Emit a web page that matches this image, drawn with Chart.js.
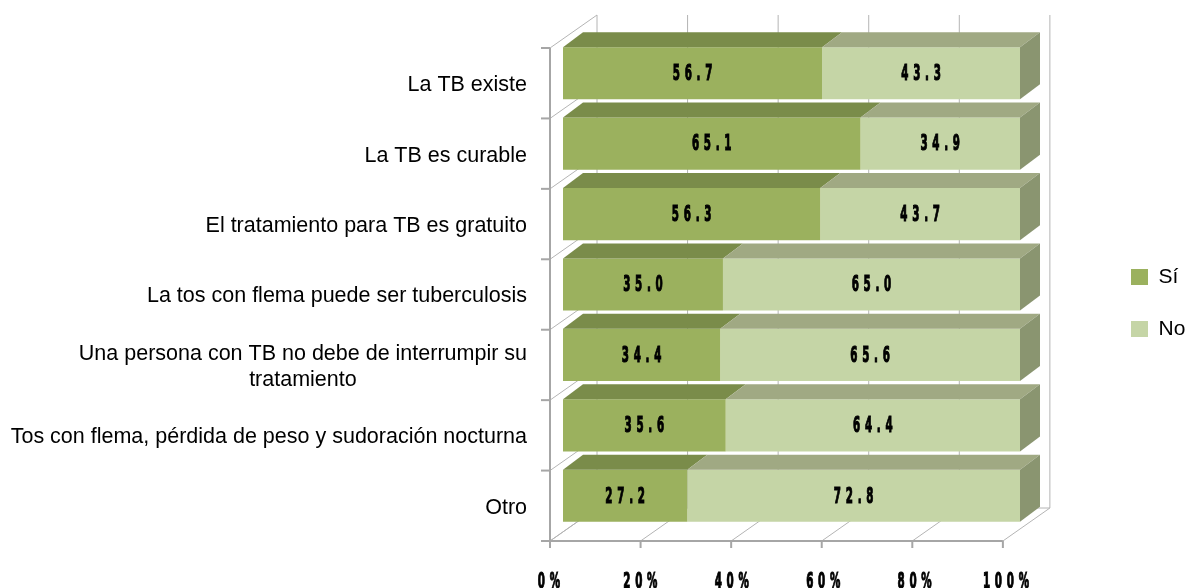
<!DOCTYPE html>
<html>
<head>
<meta charset="utf-8">
<script src="https://cdn.jsdelivr.net/npm/chart.js@4.4.1/dist/chart.umd.min.js"></script>
<style>
  html, body { margin: 0; padding: 0; background: #fff; }
  #wrap { width: 1189px; height: 588px; }
</style>
</head>
<body>
<div id="wrap"><canvas id="grafico"></canvas></div>
<script>
// Datos del gráfico
var categorias = [
    'La TB existe',
    'La TB es curable',
    'El tratamiento para TB es gratuito',
    'La tos con flema puede ser tuberculosis',
    ['Una persona con TB no debe de interrumpir su', 'tratamiento'],
    'Tos con flema, pérdida de peso y sudoración nocturna',
    'Otro'
];
var series = ['Sí', 'No'];
var valoresSi = [56.7, 65.1, 56.3, 35.0, 34.4, 35.6, 27.2];
var valoresNo = [43.3, 34.9, 43.7, 65.0, 65.6, 64.4, 72.8];

// Colores (frente, cara superior, cara lateral)
var COLOR_SI = { frente: '#9bb15e', arriba: '#7a8c4a' };
var COLOR_NO = { frente: '#c5d5a6', arriba: '#a0a983', lado: '#8a9570' };
var GRIS = '#b4b4b4';

// Efecto 3D
var PROF = { x: 20, y: -15 };    // profundidad de cada barra
var PLANO = { x: -13, y: 10 };   // plano frontal (ejes) respecto al área de barras
var FONDO = { x: 47, y: -33 };   // pared del fondo respecto al plano frontal

var FUENTE_NUM = 'bold 22px "DejaVu Sans", sans-serif';
var ESCALA_NUM = 0.47;   // la fuente de los números es muy angosta
var FUENTE_TXT = '"Liberation Sans", Arial, sans-serif';

function linea(ctx, x1, y1, x2, y2) {
    ctx.beginPath();
    ctx.moveTo(x1, y1);
    ctx.lineTo(x2, y2);
    ctx.stroke();
}

function poligono(ctx, pts, color) {
    ctx.beginPath();
    ctx.moveTo(pts[0][0], pts[0][1]);
    for (var i = 1; i < pts.length; i++) ctx.lineTo(pts[i][0], pts[i][1]);
    ctx.closePath();
    ctx.fillStyle = color;
    ctx.fill();
}

// texto angosto y espaciado, centrado en (x, y)
function textoAngosto(ctx, txt, x, y, base) {
    ctx.save();
    ctx.translate(x, y);
    ctx.scale(ESCALA_NUM, 1);
    ctx.font = FUENTE_NUM;
    ctx.letterSpacing = '10px';
    ctx.fillStyle = '#000';
    ctx.strokeStyle = '#000';
    ctx.lineWidth = 1.2;
    ctx.textAlign = 'center';
    ctx.textBaseline = base || 'middle';
    ctx.fillText(txt, 5, 0);
    ctx.strokeText(txt, 5, 0);
    ctx.restore();
}

var plugin3d = {
    id: 'barras3d',
    beforeDraw: function (chart) {
        var ctx = chart.ctx, sx = chart.scales.x, sy = chart.scales.y;
        if (sx._propio) return;
        // etiquetas del eje X: fuente angosta, sin recorte
        sx.drawLabels = function () {
            sx.getLabelItems().forEach(function (it) {
                var o = it.options;
                textoAngosto(ctx, it.label, o.translation[0], o.translation[1] + it.textOffset, o.textBaseline);
            });
        };
        // etiquetas del eje Y: líneas múltiples centradas entre sí
        sy.drawLabels = function () {
            sy.getLabelItems().forEach(function (it) {
                var o = it.options;
                var lineas = Array.isArray(it.label) ? it.label : [it.label];
                ctx.save();
                ctx.font = it.font.string;
                ctx.fillStyle = o.color;
                ctx.textBaseline = o.textBaseline;
                var ancho = Math.max.apply(null, lineas.map(function (l) { return ctx.measureText(l).width; }));
                ctx.textAlign = 'center';
                lineas.forEach(function (l, k) {
                    ctx.fillText(l, o.translation[0] - ancho / 2, o.translation[1] + it.textOffset + k * it.font.lineHeight);
                });
                ctx.restore();
            });
        };
        sx._propio = true;
    },
    beforeDatasetsDraw: function (chart) {
        var ctx = chart.ctx, a = chart.chartArea, sx = chart.scales.x;
        var fx = function (v) { return a.left + PLANO.x + (sx.getPixelForValue(v) - a.left) * 0.991; };
        var arriba = a.top + PLANO.y, abajo = a.bottom + PLANO.y;
        var izq = fx(0), der = fx(100);
        var n = categorias.length, banda = a.height / n;

        ctx.save();
        ctx.strokeStyle = GRIS;
        ctx.lineWidth = 1;
        // líneas verticales de la pared del fondo
        sx.ticks.forEach(function (t) {
            var px = fx(t.value) + FONDO.x;
            linea(ctx, px, arriba + FONDO.y, px, abajo + FONDO.y);
        });
        // diagonales del piso
        sx.ticks.forEach(function (t) {
            linea(ctx, fx(t.value), abajo, fx(t.value) + FONDO.x, abajo + FONDO.y);
        });
        // diagonales de la pared izquierda
        for (var i = 0; i <= n; i++) {
            var yb = a.top + i * banda + PLANO.y;
            linea(ctx, izq, yb, izq + FONDO.x, yb + FONDO.y);
        }
        linea(ctx, izq + FONDO.x, abajo + FONDO.y, der + FONDO.x, abajo + FONDO.y);

        // ejes frontales
        ctx.strokeStyle = '#a6a6a6';
        ctx.lineWidth = 2;
        linea(ctx, izq, arriba, izq, abajo);
        linea(ctx, izq, abajo, der, abajo);
        sx.ticks.forEach(function (t) {
            linea(ctx, fx(t.value), abajo, fx(t.value), abajo + 7);
        });
        for (var j = 0; j <= n; j++) {
            var yt = a.top + j * banda + PLANO.y;
            linea(ctx, izq - 9, yt, izq, yt);
        }
        ctx.restore();
    },
    afterDatasetsDraw: function (chart) {
        var ctx = chart.ctx;
        var metas = [chart.getDatasetMeta(0), chart.getDatasetMeta(1)];
        var caras = [COLOR_SI, COLOR_NO];
        var valores = [valoresSi, valoresNo];

        ctx.save();
        metas.forEach(function (meta, d) {
            meta.data.forEach(function (bar) {
                var p = bar.getProps(['x', 'y', 'base', 'height'], true);
                var t = p.y - p.height / 2, b = p.y + p.height / 2;
                poligono(ctx, [[p.base, t], [p.x, t], [p.x + PROF.x, t + PROF.y], [p.base + PROF.x, t + PROF.y]], caras[d].arriba);
                if (d === metas.length - 1) {
                    poligono(ctx, [[p.x, t], [p.x + PROF.x, t + PROF.y], [p.x + PROF.x, b + PROF.y], [p.x, b]], COLOR_NO.lado);
                }
            });
        });
        ctx.restore();

        // valores dentro de las barras
        metas.forEach(function (meta, d) {
            meta.data.forEach(function (bar, i) {
                var p = bar.getProps(['x', 'y', 'base'], true);
                textoAngosto(ctx, valores[d][i].toFixed(1), (p.base + p.x) / 2, p.y + 1);
            });
        });
    }
};

new Chart(document.getElementById('grafico'), {
    type: 'bar',
    data: {
        labels: categorias,
        datasets: [
            { label: series[0], data: valoresSi, backgroundColor: COLOR_SI.frente, borderWidth: 0, xAxisID: 'x', yAxisID: 'y' },
            { label: series[1], data: valoresNo, backgroundColor: COLOR_NO.frente, borderWidth: 0, xAxisID: 'x', yAxisID: 'y' }
        ]
    },
    options: {
        indexAxis: 'y',
        responsive: true,
        maintainAspectRatio: false,
        animation: false,
        events: [],
        categoryPercentage: 1,
        barPercentage: 0.74,
        layout: { padding: { top: 38, right: 0, bottom: 20, left: 0 } },
        plugins: {
            legend: {
                position: 'right',
                maxWidth: 89,
                labels: {
                    font: { family: FUENTE_TXT, size: 21 },
                    color: '#000',
                    boxWidth: 17,
                    boxHeight: 16,
                    padding: 31
                }
            },
            tooltip: { enabled: false }
        },
        scales: {
            x: {
                stacked: true,
                min: 0,
                max: 100,
                grid: { display: false, drawTicks: false },
                border: { display: false },
                ticks: {
                    stepSize: 20,
                    padding: 38,
                    labelOffset: -14,
                    color: '#000',
                    font: { size: 22, weight: 'bold' },
                    callback: function (v) { return v + '%'; }
                },
                afterFit: function (s) { s.height = 37; s.paddingLeft = 0; s.paddingRight = 0; }
            },
            y: {
                stacked: true,
                grid: { display: false, drawTicks: false },
                border: { display: false },
                ticks: {
                    padding: 36,
                    labelOffset: 12,
                    color: '#000',
                    font: { family: FUENTE_TXT, size: 21.5, lineHeight: 1.2 }
                },
                afterFit: function (s) { s.width = 563; s.paddingTop = 0; s.paddingBottom = 0; }
            },
            yPad: {
                axis: 'y',
                type: 'category',
                position: 'right',
                grid: { display: false, drawTicks: false },
                border: { display: false },
                ticks: { display: false },
                afterFit: function (s) { s.width = 80; s.paddingTop = 0; s.paddingBottom = 0; }
            }
        }
    },
    plugins: [plugin3d]
});
</script>
</body>
</html>
